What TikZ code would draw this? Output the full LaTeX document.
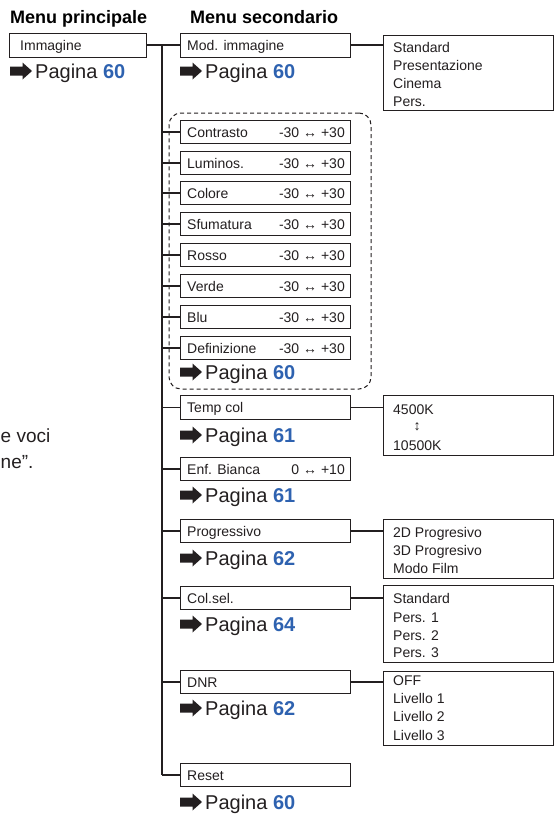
\documentclass[tikz,border=0pt]{standalone}
\usepackage{fontspec}
\setmainfont{Liberation Sans}
\definecolor{ink}{HTML}{231F20}
\definecolor{pgblue}{HTML}{2E62B0}
\newcommand\pgref[4]{%
  \fill[ink] (#2,#3-4.5) -- ++(12.5,0) -- ++(0,-4) -- ++(9.5,8.5) -- ++(-9.5,8.5) -- ++(0,-4) -- ++(-12.5,0) -- cycle;
  \node[pg] (#1) at (#2+25,#3+7) {Pagina \textcolor{pgblue}{\bfseries #4}};
}
\begin{document}
\begin{tikzpicture}[x=1pt,y=-1pt,
  box/.style={draw=ink, line width=1pt, fill=white, inner sep=0pt, minimum height=23.5pt, minimum width=170pt},
  lbl/.style={inner sep=0pt, anchor=base west, text=ink, font=\fontsize{14}{16}\selectfont},
  val/.style={inner sep=0pt, anchor=base east, text=ink, font=\fontsize{14}{16}\selectfont},
  ttl/.style={inner sep=0pt, anchor=base west, text=black, font=\fontsize{18}{20}\selectfont\bfseries},
  pg/.style={inner sep=0pt, anchor=base west, text=ink, font=\fontsize{20}{24}\selectfont},
  side/.style={inner sep=0pt, anchor=base west, text=ink, font=\fontsize{19}{22}\selectfont},
  conn/.style={draw=ink, line width=1.3pt},
  grp/.style={draw=ink, line width=1pt, dash pattern=on 4pt off 3pt, rounded corners=12pt, inner sep=0pt},
]
\useasboundingbox (0,0) rectangle (555,814);

% titles
\node[ttl] (t1) at (10,23) {Menu principale};
\node[ttl] (t2) at (190,23) {Menu secondario};

% side text
\node[side] (s1) at (0.5,442) {e voci};
\node[side] (s2) at (0.5,468) {ne”.};

% dashed group
\node[grp, minimum width=202pt, minimum height=276pt] (grpbox) at (270,251) {};

% trunk
\coordinate (trkTop) at (162,45);
\coordinate (trkBot) at (162,775);
\draw[conn] (trkTop) -- (trkBot);

% main menu
\node[box, minimum width=137pt, minimum height=24pt] (imm) at (77.5,45) {};
\node[lbl] (immL) at (20,50) {Immagine};
\pgref{pgImm}{10}{71}{60}

% Mod. immagine
\node[box, minimum height=24pt] (mod) at (265,45) {};
\node[lbl] (modL) at (187,50) {Mod. immagine};
\pgref{pgMod}{180}{71}{60}
\draw[conn] (imm.east) -- (mod.west);
\node[box, minimum height=75pt] (omod) at (468,72.5) {};
\draw[conn] (mod.east) -- (mod.east -| omod.west);
\node[lbl] (omod1) at (393,52) {Standard};
\node[lbl] (omod2) at (393,70) {Presentazione};
\node[lbl] (omod3) at (393,88) {Cinema};
\node[lbl] (omod4) at (393,106) {Pers.};

% adjustable items
\foreach \n/\t/\c in {ctr/Contrasto/132, lum/Luminos./163, col/Colore/193, sfu/Sfumatura/224, ros/Rosso/255, ver/Verde/286, blu/Blu/317, def/Definizione/348} {
  \node[box] (\n) at (265,\c) {};
  \node[lbl] (\n-l) at (187,\c+5) {\t};
  \node[val] (\n-v) at (345,\c+5) {-30 ↔ +30};
  \draw[conn] (\n.west) -- (\n.west -| trkTop);
}
\pgref{pgDef}{180}{372}{60}

% Temp col
\node[box] (tmp) at (265,407.5) {};
\node[lbl] (tmpL) at (187,412.5) {Temp col};
\draw[conn] (tmp.west) -- (tmp.west -| trkTop);
\pgref{pgTmp}{180}{435}{61}
\node[box, minimum height=60pt] (otmp) at (468,425) {};
\draw[conn] (tmp.east) -- (tmp.east -| otmp.west);
\node[lbl] (otmp1) at (393,414) {4500K};
\node[inner sep=0pt, text=ink, font=\fontsize{14}{16}\selectfont\bfseries] (otmp2) at (417,427) {↕};
\node[lbl] (otmp3) at (393,450) {10500K};

% Enf. Bianca
\node[box] (enf) at (265,469) {};
\node[lbl] (enfL) at (187,474) {Enf. Bianca};
\node[val] (enfV) at (345,474) {0 ↔ +10};
\draw[conn] (enf.west) -- (enf.west -| trkTop);
\pgref{pgEnf}{180}{495}{61}

% Progressivo
\node[box] (prg) at (265,531) {};
\node[lbl] (prgL) at (187,536) {Progressivo};
\draw[conn] (prg.west) -- (prg.west -| trkTop);
\pgref{pgPrg}{180}{558}{62}
\node[box, minimum height=59pt] (oprg) at (468,548.5) {};
\draw[conn] (prg.east) -- (prg.east -| oprg.west);
\node[lbl] (oprg1) at (393,537) {2D Progresivo};
\node[lbl] (oprg2) at (393,555) {3D Progresivo};
\node[lbl] (oprg3) at (393,573) {Modo Film};

% Col.sel.
\node[box] (cse) at (265,598) {};
\node[lbl] (cseL) at (187,603) {Col.sel.};
\draw[conn] (cse.west) -- (cse.west -| trkTop);
\pgref{pgCse}{180}{624}{64}
\node[box, minimum height=77pt] (ocse) at (468,623.5) {};
\draw[conn] (cse.east) -- (cse.east -| ocse.west);
\node[lbl] (ocse1) at (393,603) {Standard};
\node[lbl] (ocse2) at (393,622) {Pers. 1};
\node[lbl] (ocse3) at (393,640) {Pers. 2};
\node[lbl] (ocse4) at (393,657) {Pers. 3};

% DNR
\node[box] (dnr) at (265,682) {};
\node[lbl] (dnrL) at (187,687) {DNR};
\draw[conn] (dnr.west) -- (dnr.west -| trkTop);
\pgref{pgDnr}{180}{708}{62}
\node[box, minimum height=74pt] (odnr) at (468,708) {};
\draw[conn] (dnr.east) -- (dnr.east -| odnr.west);
\node[lbl] (odnr1) at (393,685) {OFF};
\node[lbl] (odnr2) at (393,703) {Livello 1};
\node[lbl] (odnr3) at (393,721) {Livello 2};
\node[lbl] (odnr4) at (393,740) {Livello 3};

% Reset
\node[box] (rst) at (265,775) {};
\node[lbl] (rstL) at (187,780) {Reset};
\draw[conn] (rst.west) -- (trkBot);
\pgref{pgRst}{180}{802}{60}
\end{tikzpicture}
\end{document}
